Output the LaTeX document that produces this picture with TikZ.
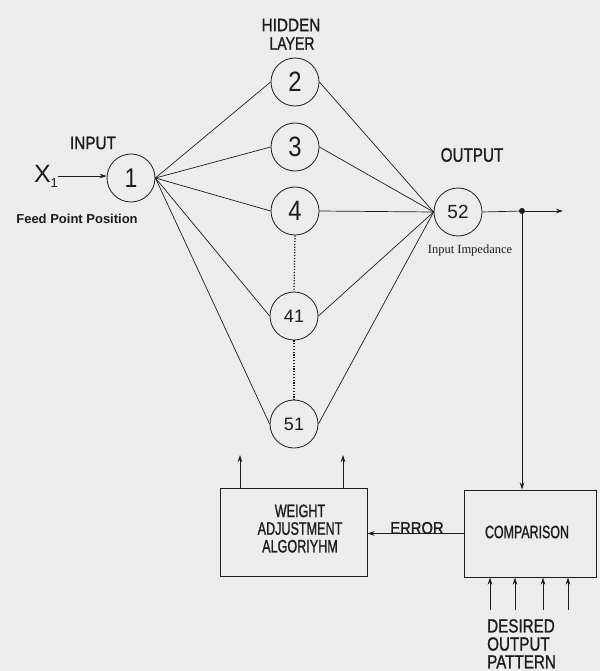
\documentclass[tikz,border=0pt]{standalone}
\usepackage{fontspec}
\usepackage{graphicx}
\newfontfamily\gs{Liberation Sans}
\newfontfamily\gsb{Liberation Sans}[FakeBold=1.3]
\newfontfamily\gserif{Liberation Serif}
\usetikzlibrary{arrows.meta,calc}
\definecolor{bg}{RGB}{236,236,236}
\definecolor{ink}{RGB}{28,28,28}
\newcommand\fs[2]{\fontsize{#1}{#2}\selectfont}
\newcommand\sx[2]{\scalebox{#1}[1]{#2}}
\begin{document}
\begin{tikzpicture}[x=1pt,y=-1pt,
 neuron/.style={circle,draw=ink,line width=0.8pt,minimum size=48pt,inner sep=0pt,font=\gs,text=ink},
 conn/.style={draw=ink,line width=0.7pt},
 arr/.style={conn,-{Stealth[length=7pt,width=4.5pt]}},
 blk/.style={rectangle,draw=ink,line width=1pt,inner sep=0pt,text=ink},
 lbl/.style={inner sep=0pt,text=ink,font=\gsb},
 dots/.style={draw=ink,line width=1.3pt,dash pattern=on 1.2pt off 1.6pt}]
\fill[bg] (0,0) rectangle (600,671);
\useasboundingbox (0,0) rectangle (600,671);

% neurons
\node[neuron] (n1)  at (131,178) {\sx{0.85}{\fs{27}{27}1}};
\node[neuron] (n2)  at (295,82)  {\sx{0.85}{\fs{28}{28}2}};
\node[neuron] (n3)  at (295,147) {\sx{0.85}{\fs{28}{28}3}};
\node[neuron] (n4)  at (295,211) {\sx{0.85}{\fs{28}{28}4}};
\node[neuron] (n41) at (294,316) {\fs{18}{18}41};
\node[neuron] (n51) at (294,424) {\fs{18}{18}51};
\node[neuron] (n52) at (458,212) {\fs{19}{19}52};

% labels
\node[lbl] (hid) at (291,25) {\sx{0.85}{\fs{18}{18}HIDDEN}};
\node[lbl] (lay) at (292,43.5) {\sx{0.78}{\fs{18}{18}LAYER}};
\node[lbl] (inp) at (93,143) {\sx{0.85}{\fs{18}{18}INPUT}};
\node[lbl] (outl) at (472,155) {\sx{0.78}{\fs{19.5}{19.5}OUTPUT}};
\node[lbl,font=\gs] (x1) at (46,176) {\fs{25}{25}X\raisebox{-5pt}{\fs{13}{13}1}};
\node[lbl,font=\gs\bfseries] (feed) at (77,219) {\fs{13}{13}Feed Point Position};
\node[lbl,font=\gserif] (imp) at (470,250) {\fs{12.5}{12.5}Input Impedance};

% input arrow
\draw[arr] (x1.east) -- (x1.east -| n1.west);

% input -> hidden -> output
\foreach \h in {n2,n3,n4,n41,n51}{
  \draw[conn] (n1.east) -- (\h.west);
  \draw[conn] (\h.east) -- (n52.west);
}
% dotted continuation
\draw[dots] (n4.south) -- (n41.north);
\draw[dots] (n41.south) -- (n51.north);

% output
\node[circle,fill=ink,inner sep=0pt,minimum size=6pt] (dot) at (522,211) {};
\coordinate (oend) at (563,211);
\draw[conn] (n52.east) -- (dot);
\draw[arr] (dot) -- (oend);

% blocks
\node[blk,minimum width=147pt,minimum height=88pt] (wb) at (293.5,532) {};
\node[lbl] (wbt) at (300,531) {\sx{0.7}{\fs{18}{17}\begin{tabular}{@{}c@{}}WEIGHT\\ADJUSTMENT\\ALGORIYHM\end{tabular}}};
\node[blk,minimum width=132pt,minimum height=87pt] (cmp) at (530,533.5) {};
\node[lbl] (cmpt) at (527,532) {\sx{0.69}{\fs{18}{18}COMPARISON}};

% feedback arrows
\draw[arr] (dot) -- (dot |- cmp.north);
\draw[arr] (cmp.west) -- (cmp.west -| wb.east);
\node[lbl] (err) at (417,528) {\sx{0.87}{\fs{17}{17}ERROR}};

\coordinate (u1) at (240,455);
\coordinate (u2) at (343,455);
\draw[arr] (u1 |- wb.north) -- (u1);
\draw[arr] (u2 |- wb.north) -- (u2);

% desired output pattern
\foreach \xx/\nm in {490/d1,515/d2,543/d3,568/d4}{
  \coordinate (\nm) at (\xx,610);
  \draw[arr] (\nm) -- (\nm |- cmp.south);
}
\node[lbl,anchor=north west] (des) at (487,619) {\sx{0.8}{\fs{19}{16}\begin{tabular}{@{}l@{}}DESIRED\\OUTPUT\\PATTERN\end{tabular}}};
\end{tikzpicture}
\end{document}
